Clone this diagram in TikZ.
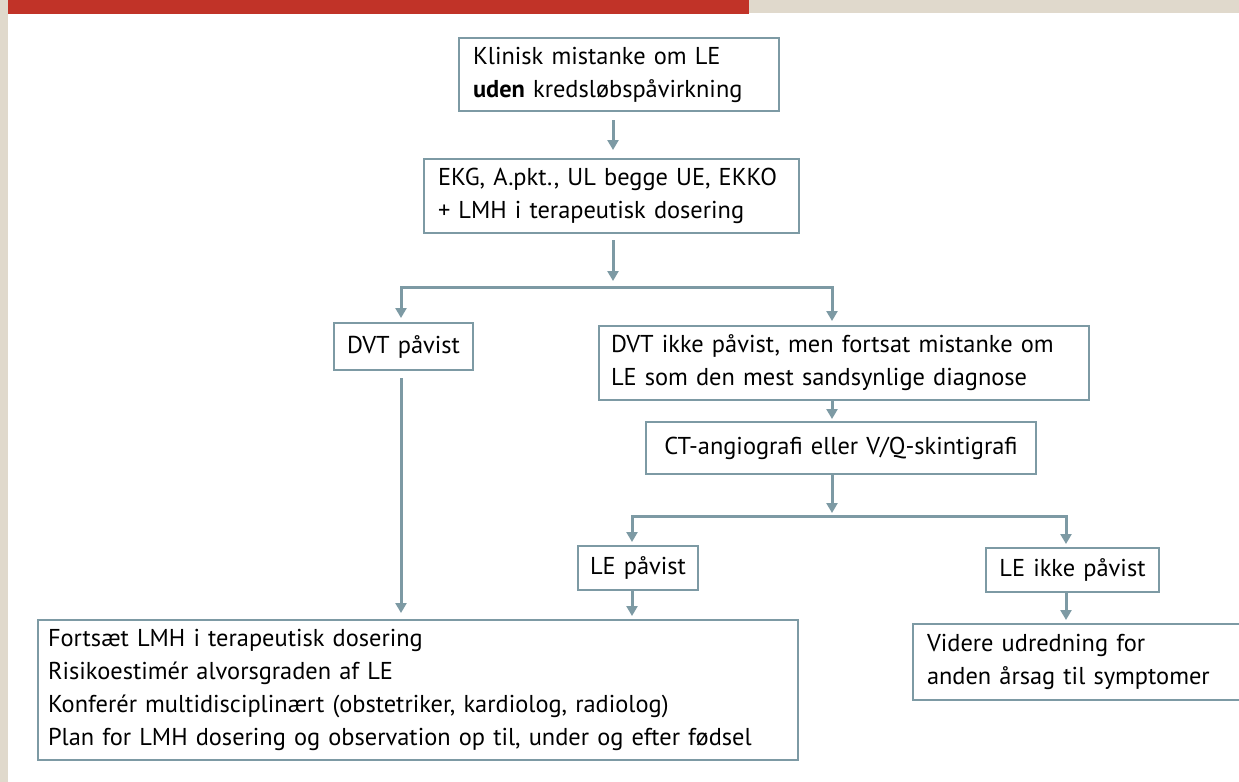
\documentclass[tikz,border=0pt]{standalone}
\usepackage{fontspec}
\setmainfont{PT Sans}
\usetikzlibrary{arrows.meta,calc}
\definecolor{boxc}{RGB}{125,154,164}
\definecolor{barred}{RGB}{193,51,40}
\definecolor{beige}{RGB}{224,217,204}
\begin{document}
\begin{tikzpicture}[x=0.5pt,y=-0.5pt,
  box/.style={draw=boxc, line width=1pt, rectangle, anchor=north west,
    inner xsep=7pt, inner ysep=0pt, align=left,
    font=\fontsize{12.2}{16.5}\selectfont},
  cbox/.style={box, align=center, inner xsep=1pt},
  ln/.style={draw=boxc, line width=1.5pt},
  arr/.style={ln, -{Triangle[length=5pt,width=5.5pt]}},
  darr/.style={ln, {Triangle[length=5pt,width=5.5pt]}-{Triangle[length=5pt,width=5.5pt]}, line join=miter}
]
\useasboundingbox (0,0) rectangle (1239,782);
\fill[white] (0,0) rectangle (1239,782);
\fill[beige] (0,0) rectangle (8,782);
\fill[barred] (8,0) rectangle (749,14);
\fill[beige] (749,0) rectangle (1239,13);

\node[box, minimum width=160pt, minimum height=36.5pt, text width=146pt] (k) at (458,37)
  {Klinisk mistanke om LE\\\textbf{uden} kredsløbspåvirkning};
\node[box, minimum width=187.5pt, minimum height=37pt, text width=173.5pt] (e) at (423,158)
  {EKG, A.pkt., UL begge UE, EKKO\\+ LMH i terapeutisk dosering};
\node[cbox, minimum width=69.5pt, minimum height=23.5pt, text width=67.5pt] (d) at (333,322)
  {DVT påvist};
\node[box, minimum width=245pt, minimum height=37pt, text width=233pt, inner xsep=6pt] (n) at (598,325)
  {DVT ikke påvist, men fortsat mistanke om\\LE som den mest sandsynlige diagnose};
\node[cbox, minimum width=195pt, minimum height=26pt, text width=193pt] (c) at (645,421)
  {CT-angiografi eller V/Q-skintigrafi};
\node[cbox, minimum width=60pt, minimum height=22pt, text width=58pt] (lp) at (577,545)
  {LE påvist};
\node[cbox, minimum width=86.5pt, minimum height=22pt, text width=84.5pt] (li) at (985,547)
  {LE ikke påvist};
\node[box, minimum width=379pt, minimum height=70pt, text width=370pt, inner xsep=5pt] (b) at (37,619)
  {Fortsæt LMH i terapeutisk dosering\\Risikoestimér alvorsgraden af LE\\Konferér multidisciplinært (obstetriker, kardiolog, radiolog)\\Plan for LMH dosering og observation op til, under og efter fødsel};
\node[box, minimum width=170pt, minimum height=38pt, text width=156pt, inner xsep=6.5pt] (v) at (912,623)
  {Videre udredning for\\anden årsag til symptomer};

\coordinate (m) at (613,0);
\coordinate (m1) at (613,281);
\coordinate (bl) at (401,287);
\coordinate (br) at (832,287);
\coordinate (c1) at (632,516);
\coordinate (c2) at (1066,516);

\draw[arr, shorten <=4pt, shorten >=4pt] (k.south -| m) -- (e.north -| m);
\draw[arr, shorten <=3pt] (e.south -| m) -- (m1);
\draw[darr, shorten <=2pt, shorten >=2pt] (bl |- d.north) -- (bl) -- (br) -- (br |- n.north);
\draw[arr, shorten <=3.5pt, shorten >=3pt] (bl |- d.south) -- (bl |- b.north);
\draw[arr, shorten >=1pt] (br |- n.south) -- (br |- c.north);
\draw[arr, shorten >=1.5pt] (br |- c.south) -- (br |- c1);
\draw[darr, shorten <=1.5pt, shorten >=1.5pt] (c1 |- lp.north) -- (c1) -- (c2) -- (c2 |- li.north);
\draw[arr, shorten >=1.5pt] (c1 |- lp.south) -- (c1 |- b.north);
\draw[arr, shorten >=1.5pt] (c2 |- li.south) -- (c2 |- v.north);
\end{tikzpicture}
\end{document}
